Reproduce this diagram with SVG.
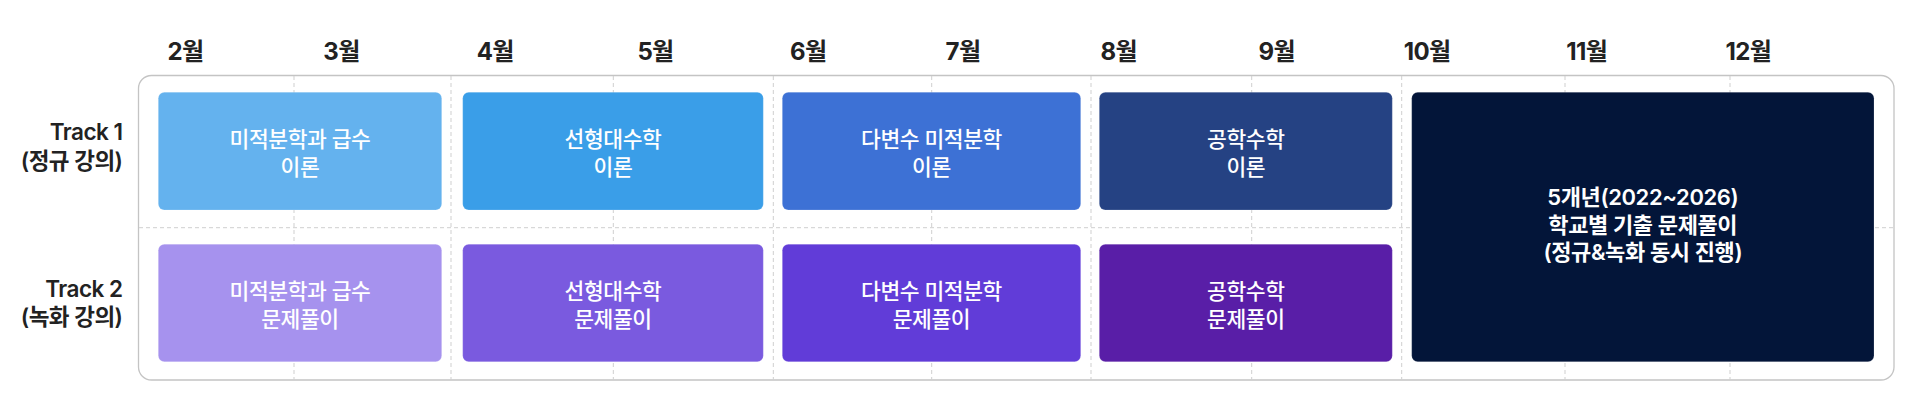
<svg xmlns="http://www.w3.org/2000/svg" width="1920" height="415" viewBox="0 0 1920 415">
  <style>
    .month { font-family: "Inter", "Noto Sans CJK KR", sans-serif; font-size: 24px; font-weight: 700; fill: #222222; text-anchor: middle; letter-spacing: -0.6px; }
    .track { font-family: "Inter", "Noto Sans CJK KR", sans-serif; font-size: 22.5px; font-weight: 600; fill: #222222; text-anchor: end; letter-spacing: -0.5px; }
    .lbl { font-family: "Inter", "Noto Sans CJK KR", sans-serif; font-size: 21.5px; font-weight: 500; fill: #ffffff; text-anchor: middle; letter-spacing: -0.4px; }
    .lbl5 { font-family: "Inter", "Noto Sans CJK KR", sans-serif; font-size: 22px; font-weight: 600; fill: #ffffff; text-anchor: middle; letter-spacing: -0.4px; }
    .grid { stroke: #cfcfcf; stroke-width: 1; stroke-dasharray: 4 3; fill: none; }
    .box { stroke: rgba(255,255,255,0.18); stroke-width: 1; }
  </style>
  <rect x="0" y="0" width="1920" height="415" fill="#ffffff"/>

  <g id="months">
    <text class="month" x="185.5" y="60">2월</text>
    <text class="month" x="341.5" y="60">3월</text>
    <text class="month" x="495.3" y="60">4월</text>
    <text class="month" x="655.5" y="60">5월</text>
    <text class="month" x="808.3" y="60">6월</text>
    <text class="month" x="963" y="60">7월</text>
    <text class="month" x="1118.8" y="60">8월</text>
    <text class="month" x="1276.7" y="60">9월</text>
    <text class="month" x="1427.2" y="60">10월</text>
    <text class="month" x="1586.7" y="60">11월</text>
    <text class="month" x="1748.3" y="60">12월</text>
  </g>

  <g id="track-labels">
    <text class="track" x="122.5" y="139.5">Track 1</text>
    <text class="track" x="122.5" y="168.5">(정규 강의)</text>
    <text class="track" x="122.5" y="296.5">Track 2</text>
    <text class="track" x="122.5" y="325">(녹화 강의)</text>
  </g>

  <g id="frame">
    <rect x="138.5" y="75.5" width="1755.5" height="304.5" rx="13" ry="13" fill="#ffffff" stroke="#c4c4c4" stroke-width="1.3"/>
  </g>

  <g id="connectors">
    <line class="grid" x1="294" y1="76" x2="294" y2="379.5"/>
    <line class="grid" x1="451" y1="76" x2="451" y2="379.5"/>
    <line class="grid" x1="613.3" y1="76" x2="613.3" y2="379.5"/>
    <line class="grid" x1="773.3" y1="76" x2="773.3" y2="379.5"/>
    <line class="grid" x1="931.7" y1="76" x2="931.7" y2="379.5"/>
    <line class="grid" x1="1091" y1="76" x2="1091" y2="379.5"/>
    <line class="grid" x1="1251.7" y1="76" x2="1251.7" y2="379.5"/>
    <line class="grid" x1="1401.7" y1="76" x2="1401.7" y2="379.5"/>
    <line class="grid" x1="1565" y1="76" x2="1565" y2="379.5"/>
    <line class="grid" x1="1730" y1="76" x2="1730" y2="379.5"/>
    <line class="grid" x1="139" y1="227.7" x2="1893.5" y2="227.7"/>
  </g>

  <g id="t1-calculus">
    <rect class="box" x="158.3" y="92.3" width="283.4" height="117.7" rx="6" fill="#64B2EE"/>
    <text class="lbl" x="300" y="146.5">미적분학과 급수</text>
    <text class="lbl" x="300" y="174.5">이론</text>
  </g>
  <g id="t1-linear">
    <rect class="box" x="462.7" y="92.3" width="300.6" height="117.7" rx="6" fill="#3A9EE8"/>
    <text class="lbl" x="613" y="146.5">선형대수학</text>
    <text class="lbl" x="613" y="174.5">이론</text>
  </g>
  <g id="t1-multivar">
    <rect class="box" x="782.3" y="92.3" width="298.4" height="117.7" rx="6" fill="#3D71D5"/>
    <text class="lbl" x="931.5" y="146.5">다변수 미적분학</text>
    <text class="lbl" x="931.5" y="174.5">이론</text>
  </g>
  <g id="t1-engmath">
    <rect class="box" x="1099.3" y="92.3" width="293" height="117.7" rx="6" fill="#254283"/>
    <text class="lbl" x="1245.8" y="146.5">공학수학</text>
    <text class="lbl" x="1245.8" y="174.5">이론</text>
  </g>

  <g id="t2-calculus">
    <rect class="box" x="158.3" y="244.3" width="283.4" height="117.4" rx="6" fill="#A692EE"/>
    <text class="lbl" x="300" y="298.5">미적분학과 급수</text>
    <text class="lbl" x="300" y="326.5">문제풀이</text>
  </g>
  <g id="t2-linear">
    <rect class="box" x="462.7" y="244.3" width="300.6" height="117.4" rx="6" fill="#7A5ADF"/>
    <text class="lbl" x="613" y="298.5">선형대수학</text>
    <text class="lbl" x="613" y="326.5">문제풀이</text>
  </g>
  <g id="t2-multivar">
    <rect class="box" x="782.3" y="244.3" width="298.4" height="117.4" rx="6" fill="#613CD8"/>
    <text class="lbl" x="931.5" y="298.5">다변수 미적분학</text>
    <text class="lbl" x="931.5" y="326.5">문제풀이</text>
  </g>
  <g id="t2-engmath">
    <rect class="box" x="1099.3" y="244.3" width="293" height="117.4" rx="6" fill="#591EA7"/>
    <text class="lbl" x="1245.8" y="298.5">공학수학</text>
    <text class="lbl" x="1245.8" y="326.5">문제풀이</text>
  </g>

  <g id="past-exams">
    <rect class="box" x="1411.7" y="92.3" width="462.3" height="269.4" rx="6" fill="#031539"/>
    <text class="lbl5" x="1642.8" y="205">5개년(2022~2026)</text>
    <text class="lbl5" x="1642.8" y="232.5">학교별 기출 문제풀이</text>
    <text class="lbl5" x="1642.8" y="260">(정규&amp;녹화 동시 진행)</text>
  </g>
</svg>
